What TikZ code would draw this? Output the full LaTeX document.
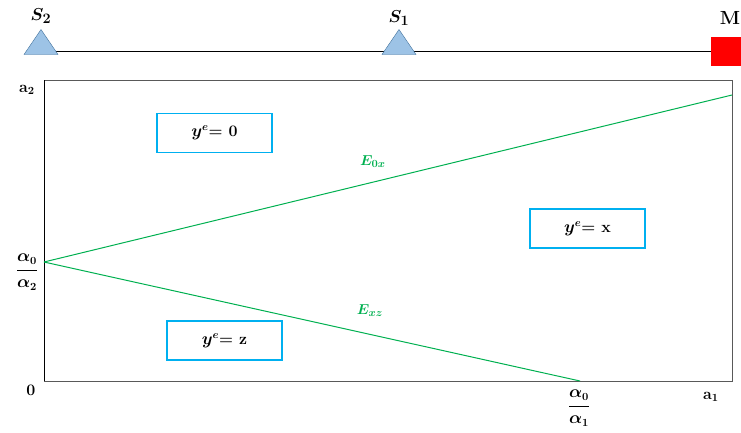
\documentclass[tikz,border=0pt]{standalone}
\usepackage{amsmath,amssymb}
\usepackage{tikz}
\usetikzlibrary{positioning,shapes.geometric,backgrounds}
\definecolor{boxblue}{RGB}{0,176,240}
\definecolor{bandgreen}{RGB}{0,176,80}
\definecolor{trifill}{RGB}{157,195,230}
\definecolor{triline}{RGB}{65,113,156}
\tikzset{
  sensor/.style    = {isosceles triangle, isosceles triangle stretches,
                      shape border rotate=90, inner sep=0pt,
                      minimum width=34pt, minimum height=25pt,
                      draw=triline, fill=trifill},
  machine/.style   = {rectangle, fill=red, inner sep=0pt,
                      minimum width=30pt, minimum height=29pt},
  region/.style    = {rectangle, draw=boxblue, line width=1.6pt,
                      minimum width=115pt, minimum height=39pt,
                      font=\fontsize{16}{19}\selectfont\bfseries\boldmath},
  toplabel/.style  = {font=\fontsize{19}{22}\selectfont\bfseries\boldmath},
  axislabel/.style = {font=\fontsize{16}{19}\selectfont\bfseries\boldmath},
  bandlabel/.style = {text=bandgreen, font=\fontsize{15}{18}\selectfont\boldmath},
  band/.style      = {draw=bandgreen, line width=1pt}
}

\begin{document}
\begin{tikzpicture}[x=1pt, y=-1pt]
  \useasboundingbox (0,0) rectangle (741,432);

  % line of stations
  \node [machine] (m) at (726,51.5) {};
  \node [sensor] (s2) at (41,45.5) {};
  \node [sensor] (s1) at (399,45.5) {};
  \begin{scope}[on background layer]
    \draw [line width=0.8pt] (s2.center |- m.west) -- (m.west);
  \end{scope}
  \node [toplabel] (s2 label) at (41,16) {$S_2$};
  \node [toplabel] (s1 label) at (399,18) {$S_1$};
  \node [toplabel] (m label) at (730,18) {M};

  % state space
  \coordinate (o)  at (44,381);
  \coordinate (nw) at (44,80);
  \coordinate (ne) at (732,80);
  \coordinate (se) at (732,381);
  \coordinate (a0) at (44,262);
  \coordinate (e0x end) at (732,95);
  \coordinate (exz end) at (580,381);
  \draw [gray!70!black, line width=0.9pt] (nw) -- (ne) -- (se) -- (o);
  \draw [black, line width=0.9pt] (o) -- (nw);

  \path [band]
    (a0) edge node [bandlabel, pos=0.478, above=11pt] {$E_{0x}$} (e0x end)
    (a0) edge node [bandlabel, pos=0.608, above=14pt] {$E_{xz}$} (exz end);

  % axis labels
  \node [axislabel] (a2 label) at (27,90) {a$_{\mathbf 2}$};
  \node [axislabel] (a0 label) at (27,272) {$\dfrac{\alpha_0}{\alpha_2}$};
  \node [axislabel] (o label) at (31,390) {0};
  \node [axislabel] (x0 label) at (579,408) {$\dfrac{\alpha_0}{\alpha_1}$};
  \node [axislabel] (a1 label) at (711,397) {a$_{\mathbf 1}$};

  % regions
  \node [region] (zero) at (214.5,133) {$y^e$= 0};
  \node [region] (xreg) at (587.5,228.5) {$y^e$= x};
  \node [region] (zreg) at (224.5,340.5) {$y^e$= z};
\end{tikzpicture}
\end{document}
